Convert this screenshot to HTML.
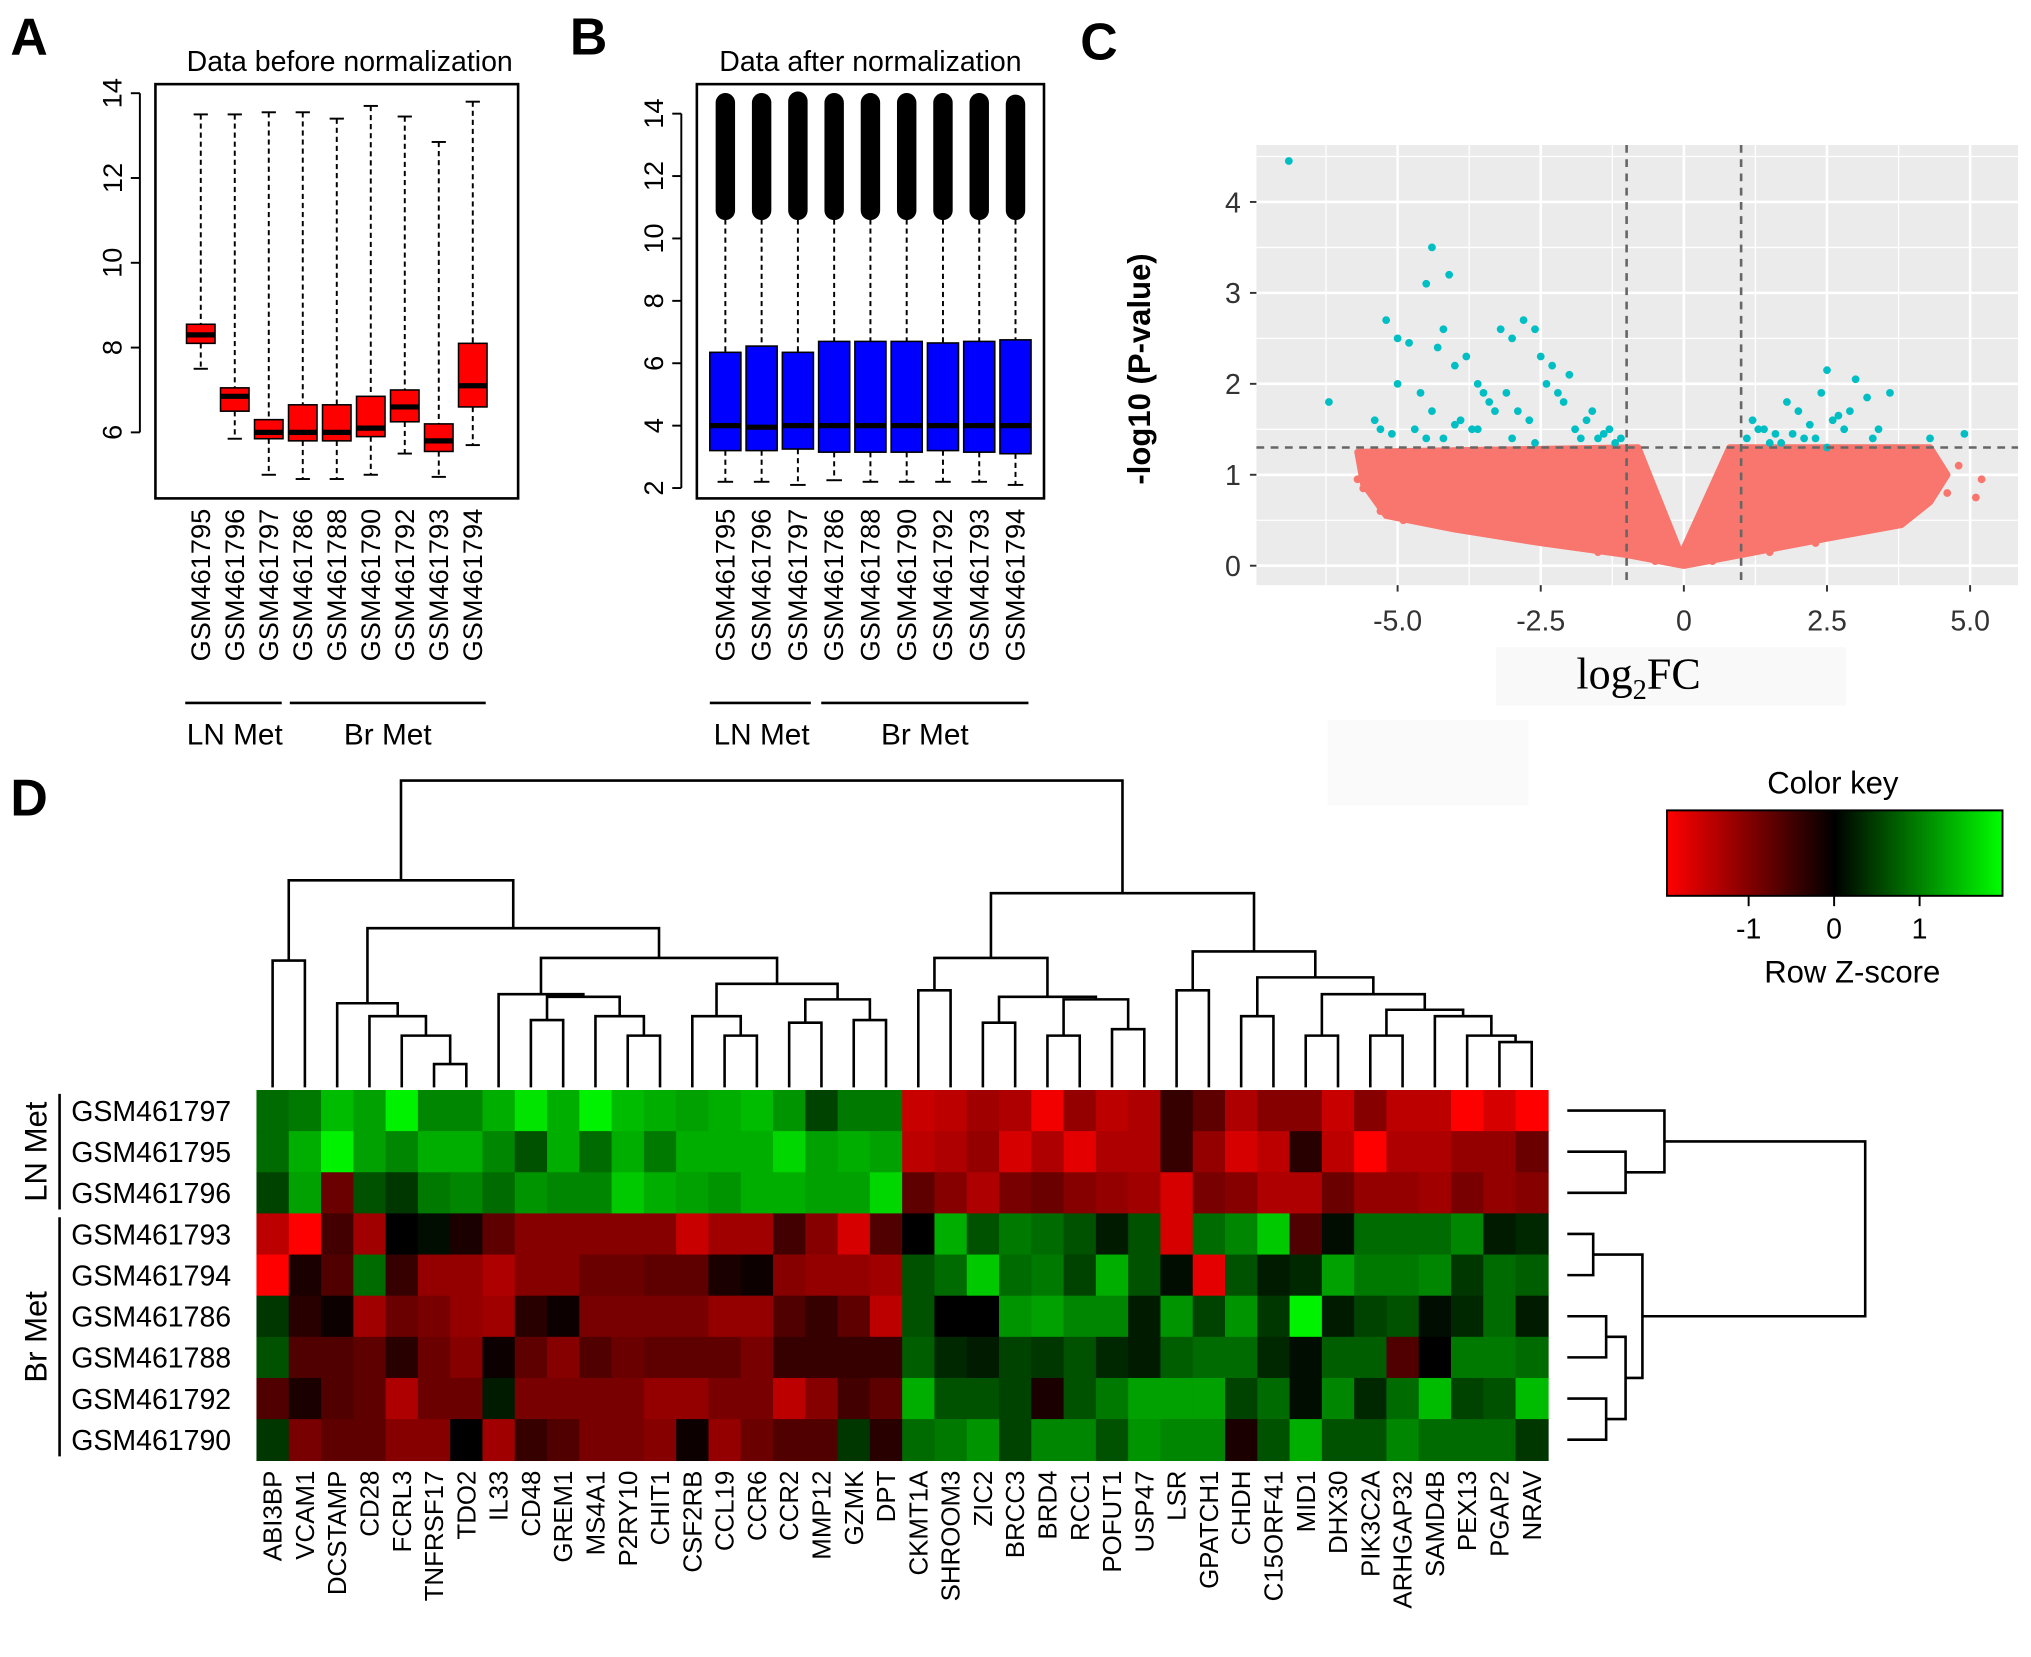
<!DOCTYPE html>
<html><head><meta charset="utf-8">
<style>
html,body{margin:0;padding:0;background:#fff;}
svg{display:block;font-family:"Liberation Sans",Arial,sans-serif;}
</style></head>
<body>
<svg id="fig" xmlns="http://www.w3.org/2000/svg" width="2031" height="1657" viewBox="0 0 1568 1280" preserveAspectRatio="none">
<defs>
<linearGradient id="ck" x1="0" x2="1" y1="0" y2="0">
<stop offset="0" stop-color="#ff0000"/><stop offset="0.5" stop-color="#000000"/><stop offset="1" stop-color="#00ff00"/>
</linearGradient>
</defs>
<g id="A"></g>
<g id="B"></g>
<g id="C"></g>
<g id="D"></g>
</svg>
<script>
// ---------- data ----------
const samples = ["GSM461795","GSM461796","GSM461797","GSM461786","GSM461788","GSM461790","GSM461792","GSM461793","GSM461794"];
const beforeMedian = [8.3,6.85,6.0,6.0,6.0,6.1,6.6,5.8,7.1];
const beforeQ1 = [8.1,6.5,5.85,5.8,5.8,5.9,6.25,5.55,6.6];
const beforeQ3 = [8.55,7.05,6.3,6.65,6.65,6.85,7.0,6.2,8.1];
const beforeLow = [7.5,5.85,5.0,4.9,4.9,5.0,5.5,4.95,5.7];
const beforeHigh = [13.5,13.5,13.55,13.55,13.4,13.7,13.45,12.85,13.8];
const ticksA = [6,8,10,12,14];
const afterMedian = [4.0,3.95,4.0,4.0,4.0,4.0,4.0,4.0,4.0];
const afterQ1 = [3.2,3.2,3.25,3.15,3.15,3.15,3.2,3.15,3.1];
const afterQ3 = [6.35,6.55,6.35,6.7,6.7,6.7,6.65,6.7,6.75];
const afterLow = [2.2,2.2,2.1,2.25,2.2,2.2,2.2,2.2,2.1];
const afterHigh = [10.9,10.9,10.9,10.9,10.9,10.9,10.9,10.9,10.9];
const afterOutMax = [14.35,14.35,14.4,14.35,14.35,14.35,14.35,14.35,14.3];
const ticksB = [2,4,6,8,10,12,14];
const volcanoXTicks = [-5,-2.5,0,2.5,5];
const volcanoXLabels = ["-5.0","-2.5","0","2.5","5.0"];
const volcanoYTicks = [0,1,2,3,4];
const sigFC = [-6.9,-4.4,-4.5,-4.1,-5.2,-6.2,-4.2,-4.3,-5.0,-4.8,-5.4,-5.3,-4.6,-4.0,-3.8,-3.6,-3.4,-3.2,-3.0,-2.8,-2.6,-2.5,-2.3,-2.9,-3.5,-3.9,-4.4,-4.7,-5.1,-5.0,-4.2,-3.7,-3.3,-3.1,-2.7,-2.4,-2.1,-1.9,-1.7,-1.5,-1.3,-1.2,-1.1,-1.6,-2.0,-2.2,-1.4,-3.0,-3.6,-4.0,-4.5,-2.6,-1.8,
1.1,1.2,1.4,1.6,1.8,2.0,2.2,2.4,2.5,2.6,2.8,3.0,3.2,3.4,3.6,2.9,2.3,1.9,1.5,1.3,2.1,2.7,3.3,4.9,4.3,1.7,2.5];
const sigP = [4.45,3.5,3.1,3.2,2.7,1.8,2.6,2.4,2.5,2.45,1.6,1.5,1.9,2.2,2.3,2.0,1.8,2.6,2.5,2.7,2.6,2.3,2.2,1.7,1.9,1.6,1.7,1.5,1.45,2.0,1.4,1.5,1.7,1.9,1.6,2.0,1.8,1.5,1.6,1.4,1.5,1.35,1.4,1.7,2.1,1.9,1.45,1.4,1.5,1.55,1.4,1.35,1.4,
1.4,1.6,1.5,1.45,1.8,1.7,1.55,1.9,2.15,1.6,1.5,2.05,1.85,1.5,1.9,1.7,1.4,1.45,1.35,1.5,1.4,1.65,1.4,1.45,1.4,1.35,1.3];
const nsFC = [-5.6,-5.5,-5.3,-5.1,-4.9,-4.6,-4.3,-3.9,-3.4,-2.9,-2.2,-1.5,-0.5,0.5,1.5,2.3,3.0,3.6,4.0,4.3,4.5,4.6,5.1,5.2,4.8,3.8,-5.7,-4.0];
const nsP = [0.85,1.1,0.6,0.8,0.5,0.75,0.45,0.6,0.35,0.4,0.25,0.15,0.05,0.05,0.15,0.25,0.4,0.55,0.75,0.9,1.05,0.8,0.75,0.95,1.1,0.6,0.95,1.15];
const heatRows = ["GSM461797","GSM461795","GSM461796","GSM461793","GSM461794","GSM461786","GSM461788","GSM461792","GSM461790"];
const heatCols = ["ABI3BP","VCAM1","DCSTAMP","CD28","FCRL3","TNFRSF17","TDO2","IL33","CD48","GREM1","MS4A1","P2RY10","CHIT1","CSF2RB","CCL19","CCR6","CCR2","MMP12","GZMK","DPT","CKMT1A","SHROOM3","ZIC2","BRCC3","BRD4","RCC1","POFUT1","USP47","LSR","GPATCH1","CHDH","C15ORF41","MID1","DHX30","PIK3C2A","ARHGAP32","SAMD4B","PEX13","PGAP2","NRAV"];
const z0 = [0.8,0.9,1.4,1.2,1.8,1.0,1.0,1.3,1.7,1.3,1.8,1.4,1.3,1.2,1.3,1.4,1.1,0.5,0.9,0.9,-1.5,-1.4,-1.2,-1.3,-1.8,-1.1,-1.4,-1.3,-0.4,-0.7,-1.3,-1.0,-1.0,-1.5,-1.0,-1.4,-1.4,-1.9,-1.6,-1.9];
const z1 = [0.8,1.3,1.8,1.2,1.0,1.3,1.3,1.0,0.6,1.3,0.8,1.3,0.9,1.3,1.3,1.3,1.6,1.2,1.3,1.2,-1.4,-1.3,-1.1,-1.6,-1.3,-1.7,-1.3,-1.3,-0.4,-1.1,-1.6,-1.4,-0.3,-1.4,-1.9,-1.3,-1.3,-1.1,-1.1,-0.8];
const z2 = [0.5,1.2,-0.8,0.6,0.4,0.9,1.0,0.8,1.1,1.0,1.0,1.5,1.3,1.2,1.1,1.3,1.3,1.2,1.2,1.6,-0.7,-1.0,-1.3,-0.9,-0.8,-1.0,-1.1,-1.2,-1.6,-0.9,-1.0,-1.3,-1.3,-0.8,-1.1,-1.1,-1.2,-0.9,-1.1,-1.0];
const z3 = [-1.4,-1.9,-0.5,-1.2,0,0.1,-0.2,-0.7,-1.0,-1.0,-1.0,-1.0,-1.0,-1.5,-1.2,-1.2,-0.5,-1.0,-1.6,-0.6,0,1.3,0.6,0.9,0.8,0.6,0.2,0.6,-1.6,0.8,1.0,1.5,-0.6,0.1,0.8,0.8,0.8,1.0,0.2,0.3];
const z4 = [-1.9,-0.2,-0.6,0.8,-0.4,-1.1,-1.1,-1.3,-1.0,-1.0,-0.8,-0.8,-0.7,-0.7,-0.2,-0.1,-1.0,-1.1,-1.1,-1.2,0.6,0.8,1.5,0.8,0.9,0.5,1.3,0.6,0.1,-1.7,0.6,0.2,0.3,1.2,0.9,0.9,1.0,0.4,0.8,0.7];
const z5 = [0.4,-0.3,-0.1,-1.2,-0.8,-0.9,-1.1,-1.2,-0.3,-0.1,-0.9,-0.9,-0.9,-0.9,-1.1,-1.1,-0.6,-0.4,-0.7,-1.4,0.6,0,0,1.1,1.2,1.0,1.0,0.2,1.1,0.5,1.1,0.4,1.8,0.2,0.5,0.6,0.1,0.3,0.8,0.2];
const z6 = [0.6,-0.6,-0.6,-0.7,-0.3,-0.8,-1.0,-0.1,-0.7,-1.0,-0.6,-0.8,-0.7,-0.7,-0.7,-0.9,-0.4,-0.4,-0.4,-0.4,0.7,0.3,0.2,0.5,0.4,0.6,0.3,0.2,0.7,0.8,0.8,0.3,0.1,0.7,0.7,-0.6,0,0.9,0.9,0.8];
const z7 = [-0.6,-0.2,-0.6,-0.7,-1.3,-0.8,-0.8,0.2,-0.9,-0.9,-0.9,-0.9,-1.1,-1.1,-0.9,-0.9,-1.4,-1.0,-0.5,-0.7,1.3,0.6,0.6,0.5,-0.2,0.6,0.9,1.2,1.2,1.2,0.5,0.8,0.1,1.0,0.3,0.8,1.4,0.5,0.6,1.4];
const z8 = [0.4,-0.9,-0.7,-0.7,-1.0,-1.0,0,-1.2,-0.4,-0.6,-0.9,-0.9,-1.0,-0.1,-1.1,-0.8,-0.6,-0.6,0.4,-0.3,0.8,0.9,1.1,0.5,1.0,1.0,0.6,1.1,1.0,1.0,-0.2,0.6,1.3,0.6,0.6,1.0,0.8,0.8,0.8,0.4];
const zRows = [z0,z1,z2,z3,z4,z5,z6,z7,z8];
const colTree = [603,[680,[742,0,1],[717,[775,2,[785,3,[800,4,[822,5,6]]]],[740,[768,7,[770,[788,8,9],[785,10,[800,11,12]]]],[760,[785,13,[800,14,15]],[772,[790,16,17],[788,18,19]]]]]],
 [690,[740,[765,20,21],[770,[790,22,23],[772,[800,24,25],[795,26,27]]]],[735,[765,28,29],[755,[785,30,31],[768,[800,32,33],[780,[800,34,35],[785,36,[800,37,[805,38,39]]]]]]]]];
const rowTree = [1440,[1285,0,[1255,1,2]],[1268,[1230,3,4],[1255,[1240,5,6],[1240,7,8]]]];
const keyTicks = [-1,0,1];

// ---------- helpers ----------
const NS="http://www.w3.org/2000/svg";
function el(parent,tag,attrs,text){const e=document.createElementNS(NS,tag);for(const k in attrs)e.setAttribute(k,attrs[k]);if(text!==undefined)e.textContent=text;parent.appendChild(e);return e;}
const A=document.getElementById('A'),B=document.getElementById('B'),C=document.getElementById('C'),D=document.getElementById('D');

// panel letters
[["A",8,42,A],["B",440,42,B],["C",834,46,C],["D",8,630,D]].forEach(p=>{
  const t=el(p[3],'text',{x:p[1],y:p[2],'font-size':40,'font-weight':'bold'},p[0]);
  
  
});

// ---------- boxplot panels ----------
function boxPanel(g,opt){
  const yv=v=>opt.y0+(v-opt.v0)*opt.k;
  const fr=el(g,'rect',{x:opt.x0,y:opt.top,width:opt.x1-opt.x0,height:opt.bot-opt.top,fill:'none',stroke:'#000','stroke-width':2});
  
  
  const tt=el(g,'text',{x:(opt.x0+opt.x1)/2+opt.tdx,y:opt.top-10,'font-size':22,'text-anchor':'middle'},opt.title);
  
  
  const ax=opt.x0-12;
  el(g,'line',{x1:ax,x2:ax,y1:yv(opt.ticks[0]),y2:yv(opt.ticks[opt.ticks.length-1]),stroke:'#000','stroke-width':1.5});
  opt.ticks.forEach(t=>{
    el(g,'line',{x1:ax-7,x2:ax,y1:yv(t),y2:yv(t),stroke:'#000','stroke-width':1.5});
    const lb=el(g,'text',{x:ax-14,y:yv(t),'font-size':21,'text-anchor':'middle',transform:`rotate(-90 ${ax-14} ${yv(t)})`},String(t));
    
    
  });
  const n=samples.length, step=(opt.x1-opt.x0-2*opt.pad)/(n-1);
  for(let i=0;i<n;i++){
    const cx=opt.x0+opt.pad+i*step, w=opt.bw;
    const box=el(g,'g',{});
    
    
    el(box,'line',{x1:cx,x2:cx,y1:yv(opt.hi[i]),y2:yv(opt.q3[i]),stroke:'#000','stroke-width':1.5,'stroke-dasharray':'4,3'});
    el(box,'line',{x1:cx,x2:cx,y1:yv(opt.q1[i]),y2:yv(opt.lo[i]),stroke:'#000','stroke-width':1.5,'stroke-dasharray':'4,3'});
    el(box,'line',{x1:cx-w/4,x2:cx+w/4,y1:yv(opt.hi[i]),y2:yv(opt.hi[i]),stroke:'#000','stroke-width':1.5});
    el(box,'line',{x1:cx-w/4,x2:cx+w/4,y1:yv(opt.lo[i]),y2:yv(opt.lo[i]),stroke:'#000','stroke-width':1.5});
    if(opt.out){
      el(box,'line',{x1:cx,x2:cx,y1:yv(opt.out[i]),y2:yv(opt.hi[i]),stroke:'#000','stroke-width':15,'stroke-linecap':'round'});
    }
    el(box,'rect',{x:cx-w/2,y:yv(opt.q3[i]),width:w,height:yv(opt.q1[i])-yv(opt.q3[i]),fill:opt.fill,stroke:'#000','stroke-width':1.2});
    el(box,'line',{x1:cx-w/2,x2:cx+w/2,y1:yv(opt.med[i]),y2:yv(opt.med[i]),stroke:'#000','stroke-width':4});
    const lx=cx+7, ly=opt.bot+8;
    const lb=el(g,'text',{x:lx,y:ly,'font-size':21,'text-anchor':'end',transform:`rotate(-90 ${lx} ${ly})`},samples[i]);
    
    
  }
  // group bars
  const c=i=>opt.x0+opt.pad+i*step;
  el(g,'line',{x1:c(0)-12,x2:c(2)+10,y1:543,y2:543,stroke:'#000','stroke-width':2});
  el(g,'line',{x1:c(3)-10,x2:c(8)+10,y1:543,y2:543,stroke:'#000','stroke-width':2});
  const g1=el(g,'text',{x:(c(0)+c(2))/2,y:575,'font-size':23,'text-anchor':'middle'},'LN Met');
  
  
  const g2=el(g,'text',{x:(c(3)+c(8))/2,y:575,'font-size':23,'text-anchor':'middle'},'Br Met');
  
  
}
boxPanel(A,{x0:120,x1:400,top:65,bot:385,v0:6,y0:334,k:-32.75,ticks:ticksA,pad:35,bw:22,fill:'#ff0000',
  med:beforeMedian,q1:beforeQ1,q3:beforeQ3,lo:beforeLow,hi:beforeHigh,title:'Data before normalization',tdx:10});
boxPanel(B,{x0:538,x1:806,top:65,bot:385,v0:2,y0:377,k:-24.1,ticks:ticksB,pad:22,bw:24,fill:'#0000ff',
  med:afterMedian,q1:afterQ1,q3:afterQ3,lo:afterLow,hi:afterHigh,out:afterOutMax,title:'Data after normalization',tdx:0});

// ---------- volcano ----------
(function(){
  const L=970,R=1558,T=112,Bt=452;
  const xs=v=>1300+v*44.2, ys=v=>437-v*70.25;
  el(C,'rect',{x:1155,y:500,width:270,height:45,fill:'#f9f9f9'});
  el(C,'rect',{x:1025,y:556,width:155,height:66,fill:'#fafafa'});
  const bg=el(C,'rect',{x:L,y:T,width:R-L,height:Bt-T,fill:'#ebebeb'});
  
  
  for(let v=-6.25;v<=5.5;v+=1.25){const x=xs(v);if(x>L&&x<R)el(C,'line',{x1:x,x2:x,y1:T,y2:Bt,stroke:'#fff','stroke-width':volcanoXTicks.includes(v)?2:1});}
  for(let v=-0.5;v<=4.5;v+=0.5){const y=ys(v);if(y>T&&y<Bt)el(C,'line',{x1:L,x2:R,y1:y,y2:y,stroke:'#fff','stroke-width':Number.isInteger(v)?2:1});}
  // dense non-significant mass
  const poly=[[-5.7,1.25],[-0.8,1.3],[-0.05,0.12],[0.8,1.3],[4.3,1.3],[4.6,1.0],[4.3,0.7],[3.8,0.45],[2.5,0.3],[1.0,0.12],[0,0],[-1.0,0.12],[-2.5,0.25],[-4,0.4],[-5.2,0.55],[-5.6,0.9]];
  const m=el(C,'polygon',{points:poly.map(p=>xs(p[0])+','+ys(p[1])).join(' '),fill:'#f8766d',stroke:'#f8766d','stroke-width':5,'stroke-linejoin':'round'});
  
  
  nsFC.forEach((v,i)=>{const p=el(C,'circle',{cx:xs(v),cy:ys(nsP[i]),r:3,fill:'#f8766d'});
    
    });
  sigFC.forEach((v,i)=>{const p=el(C,'circle',{cx:xs(v),cy:ys(sigP[i]),r:3,fill:'#00bfc4'});
    
    });
  [-1,1].forEach(v=>el(C,'line',{x1:xs(v),x2:xs(v),y1:T,y2:Bt,stroke:'#666','stroke-width':2,'stroke-dasharray':'6,5'}));
  el(C,'line',{x1:L,x2:R,y1:ys(1.3),y2:ys(1.3),stroke:'#666','stroke-width':2,'stroke-dasharray':'6,5'});
  volcanoXTicks.forEach((v,i)=>{el(C,'line',{x1:xs(v),x2:xs(v),y1:Bt,y2:Bt+5,stroke:'#333','stroke-width':1.5});
    const t=el(C,'text',{x:xs(v),y:Bt+35,'font-size':22,'text-anchor':'middle',fill:'#333'},volcanoXLabels[i]);
    
    });
  volcanoYTicks.forEach(v=>{el(C,'line',{x1:L-5,x2:L,y1:ys(v),y2:ys(v),stroke:'#333','stroke-width':1.5});
    const t=el(C,'text',{x:L-12,y:ys(v)+8,'font-size':22,'text-anchor':'end',fill:'#333'},String(v));
    
    });
  const yt=el(C,'text',{x:888,y:285,'font-size':24,'font-weight':'bold','text-anchor':'middle',transform:'rotate(-90 888 285)'},'-log10 (P-value)');
  
  
  const xt=el(C,'text',{x:1265,y:532,'font-size':34,'text-anchor':'middle','font-family':'"Liberation Serif",serif'});
  
  
  el(xt,'tspan',{},'log');el(xt,'tspan',{'font-size':22,dy:8},'2');el(xt,'tspan',{dy:-8},'FC');
})();

// ---------- heatmap ----------
(function(){
  const X0=198,X1=1195,Y0=842,Y1=1128;
  const cw=(X1-X0)/heatCols.length, rh=(Y1-Y0)/heatRows.length;
  const color=z=>{const t=Math.max(-1,Math.min(1,z/1.9));return t>=0?`rgb(0,${Math.round(255*t)},0)`:`rgb(${Math.round(-255*t)},0,0)`;};
  zRows.forEach((row,r)=>row.forEach((z,c)=>{
    const cell=el(D,'rect',{x:X0+c*cw,y:Y0+r*rh,width:cw+0.6,height:rh+0.6,fill:color(z)});
    
    
  }));
  heatRows.forEach((n,r)=>{const t=el(D,'text',{x:55,y:Y0+(r+0.5)*rh+8,'font-size':22},n);
    
    });
  heatCols.forEach((n,c)=>{const x=X0+(c+0.5)*cw+7,y=Y1+8;
    const t=el(D,'text',{x:x,y:y,'font-size':20,'text-anchor':'end',transform:`rotate(-90 ${x} ${y})`},n);
    
    });
  el(D,'line',{x1:46,x2:46,y1:Y0+3,y2:Y0+3*rh-3,stroke:'#000','stroke-width':2});
  el(D,'line',{x1:46,x2:46,y1:Y0+3*rh+3,y2:Y1-3,stroke:'#000','stroke-width':2});
  const g1=el(D,'text',{x:36,y:Y0+1.5*rh,'font-size':24,'text-anchor':'middle',transform:`rotate(-90 36 ${Y0+1.5*rh})`},'LN Met');
  
  
  const g2=el(D,'text',{x:36,y:Y0+6*rh,'font-size':24,'text-anchor':'middle',transform:`rotate(-90 36 ${Y0+6*rh})`},'Br Met');
  
  
  // column dendrogram
  const dg=el(D,'g',{stroke:'#000','stroke-width':2,fill:'none'});
  
  
  function cd(n){ if(typeof n==='number') return {x:X0+(n+0.5)*cw,y:Y0-2};
    const a=cd(n[1]),b=cd(n[2]);
    el(dg,'polyline',{points:`${a.x},${a.y} ${a.x},${n[0]} ${b.x},${n[0]} ${b.x},${b.y}`});
    return {x:(a.x+b.x)/2,y:n[0]}; }
  cd(colTree);
  // row dendrogram
  const rg=el(D,'g',{stroke:'#000','stroke-width':2,fill:'none'});
  
  
  function rd(n){ if(typeof n==='number') return {x:1210,y:Y0+(n+0.5)*rh};
    const a=rd(n[1]),b=rd(n[2]);
    el(rg,'polyline',{points:`${a.x},${a.y} ${n[0]},${a.y} ${n[0]},${b.y} ${b.x},${b.y}`});
    return {x:n[0],y:(a.y+b.y)/2}; }
  rd(rowTree);
  // color key
  const kt=el(D,'text',{x:1415,y:613,'font-size':24,'text-anchor':'middle'},'Color key');
  
  
  const kr=el(D,'rect',{x:1287,y:626,width:259,height:66,fill:'url(#ck)',stroke:'#000','stroke-width':1.5});
  
  
  const kx=v=>1416+v*66;
  keyTicks.forEach(v=>{el(D,'line',{x1:kx(v),x2:kx(v),y1:692,y2:700,stroke:'#000','stroke-width':1.5});
    const t=el(D,'text',{x:kx(v),y:725,'font-size':22,'text-anchor':'middle'},String(v));
    
    });
  const zl=el(D,'text',{x:1430,y:759,'font-size':24,'text-anchor':'middle'},'Row Z-score');
  
  
})();
</script>
</body></html>
